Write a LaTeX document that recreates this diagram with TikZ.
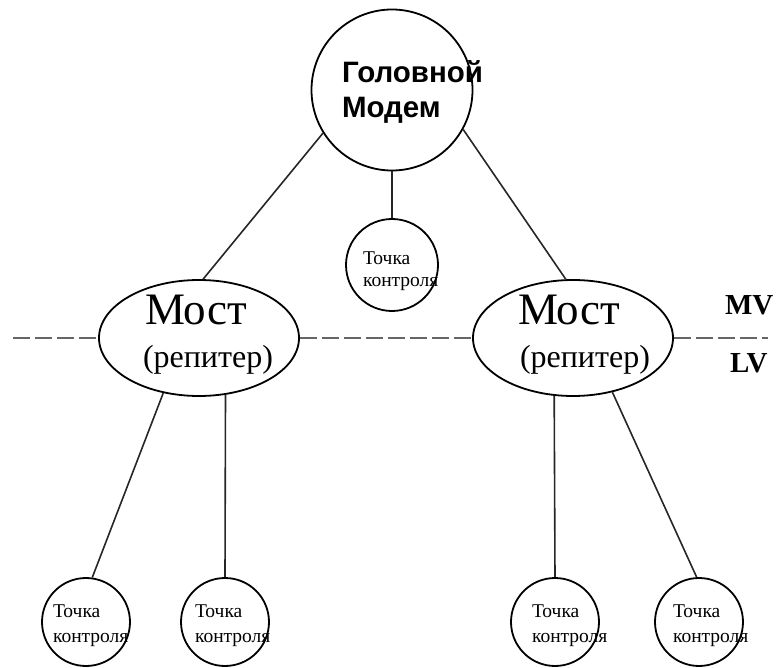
\documentclass[tikz,border=0pt]{standalone}
\usepackage{fontspec}
\setmainfont{Liberation Serif}
\newfontfamily\headfont{Liberation Sans}
\usetikzlibrary{shapes.geometric}

\begin{document}
\begin{tikzpicture}[x=1pt,y=-1pt,
  unit/.style={draw=black, line width=1.8pt, circle, inner sep=0pt, minimum size=#1},
  bridge/.style={draw=black, ellipse, line width=1.8pt, inner sep=0pt,
                 minimum width=200pt, minimum height=116pt},
  link/.style={line width=1.6pt, draw=black!85},
  bus/.style={line width=1.6pt, draw=black!60, dash pattern=on 17pt off 5pt},
  txt/.style={anchor=base west, inner sep=0pt, outer sep=0pt},
  small/.style={txt, font=\fontsize{19.5}{22}\selectfont},
  head/.style={txt, font=\headfont\bfseries\fontsize{29.5}{30}\selectfont},
  big/.style={txt, font=\fontsize{45}{50}\selectfont},
  mid/.style={txt, font=\fontsize{32}{36}\selectfont},
  volt/.style={txt, font=\bfseries\fontsize{29}{30}\selectfont}
]
\useasboundingbox (0,0) rectangle (780,668);

% head modem and its own check point
\node[unit=161pt] (T) at (392,90) {};
\node[unit=92pt] (S) at (392,265) {};

% the two bridges
\node[bridge] (bL) at (199,338) {};
\node[bridge] (bR) at (573,338) {};

% check points below the bridges
\node[unit=88pt] (B1) at (86,622) {};
\node[unit=88pt] (B2) at (225,622) {};
\node[unit=88pt] (B3) at (555,622) {};
\node[unit=88pt] (B4) at (699,622) {};

% links
\draw[link] (T.212) -- (bL.86);
\draw[link] (T.331) -- (bR.97);
\draw[link] (T.south) -- (S.north);
\draw[link] (bL.237) -- (B1.82);
\draw[link] (bL.295) -- (B2.north);
\draw[link] (bR.252) -- (B3.north);
\draw[link] (bR.306) -- (B4.93);

% MV / LV boundary
\coordinate (wL) at (13,338);
\coordinate (eR) at (768,338);
\draw[bus] (wL) -- (bL.west);
\draw[bus] (bL.east) -- (bR.west);
\draw[bus] (bR.east) -- (eR);

% labels
\node[head] (h1) at (342,83) {Головной};
\node[head] (h2) at (342,118) {Модем};

\node[big] (mL) at (145,325) {Мост};
\node[mid] (rL) at (143,368) {(репитер)};
\node[big] (mR) at (518,325) {Мост};
\node[mid] (rR) at (520,368) {(репитер)};

\node[volt] (mv) at (725,315) {MV};
\node[volt] (lv) at (730,373) {LV};

\node[small] (s1) at (363,265) {Точка};
\node[small] (s2) at (363,287) {контроля};
\node[small] (p1) at (53,617) {Точка};
\node[small] (p2) at (53,642) {контроля};
\node[small] (q1) at (195,617) {Точка};
\node[small] (q2) at (195,642) {контроля};
\node[small] (r1) at (532,617) {Точка};
\node[small] (r2) at (532,642) {контроля};
\node[small] (t1) at (673,617) {Точка};
\node[small] (t2) at (673,642) {контроля};
\end{tikzpicture}
\end{document}
